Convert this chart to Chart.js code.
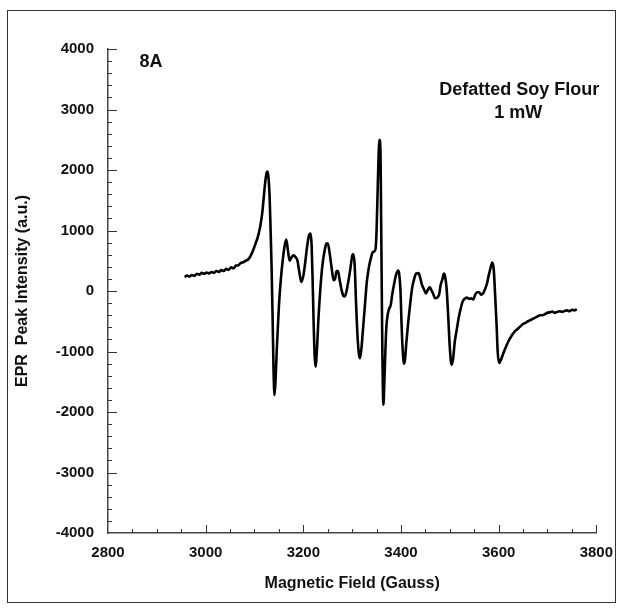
<!DOCTYPE html>
<html>
<head>
<meta charset="utf-8">
<script src="https://cdn.jsdelivr.net/npm/chart.js@4/dist/chart.umd.min.js"></script>
<style>
  body { margin: 0; background: #fff; }
  #wrap { position: relative; width: 624px; height: 611px; }
  #frame { position: absolute; left: 7px; top: 10px; width: 609px; height: 593px; border: 1.5px solid #333; box-sizing: border-box; pointer-events: none; }
</style>
</head>
<body>
<div id="wrap">
  <canvas id="myChart" width="624" height="611"></canvas>
  <div id="frame"></div>
</div>
<script>
// EPR spectrum, defatted soy flour, 1 mW

var fieldGauss = [
  2957, 2962, 2967, 2972, 2977, 2982, 2987, 2992, 2997, 3002, 3007, 3012, 3017, 3022, 3027, 3032,
  3037, 3042, 3047, 3052, 3057, 3062, 3067, 3072, 3077, 3082, 3087, 3092, 3097, 3102, 3107, 3112,
  3116, 3119, 3122, 3125, 3127, 3129, 3131, 3133, 3135, 3137, 3139, 3141, 3143, 3146, 3150, 3154,
  3158, 3162, 3165, 3168, 3172, 3176, 3180, 3184, 3188, 3192, 3196, 3200, 3204, 3208, 3212, 3215,
  3217, 3219, 3221, 3223, 3225, 3228, 3231, 3235, 3239, 3243, 3247, 3250, 3254, 3258, 3262, 3265,
  3268, 3271, 3274, 3278, 3282, 3285, 3288, 3292, 3296, 3300, 3302, 3305, 3308, 3311, 3314, 3316,
  3319, 3322, 3326, 3330, 3334, 3338, 3342, 3345, 3348, 3350, 3352, 3354, 3356, 3358, 3359, 3360,
  3361, 3362, 3364, 3366, 3368, 3370, 3373, 3376, 3379, 3382, 3386, 3390, 3394, 3396, 3399, 3401,
  3403, 3406, 3408, 3411, 3415, 3419, 3423, 3427, 3431, 3436, 3439, 3443, 3447, 3451, 3455, 3459,
  3462, 3466, 3470, 3474, 3478, 3481, 3485, 3488, 3490, 3493, 3496, 3499, 3502, 3504, 3507, 3510,
  3514, 3518, 3522, 3526, 3530, 3535, 3540, 3544, 3548, 3552, 3556, 3560, 3564, 3568, 3572, 3576,
  3580, 3584, 3587, 3590, 3593, 3596, 3598, 3601, 3605, 3610, 3615, 3620, 3625, 3630, 3635, 3640,
  3645, 3650, 3655, 3660, 3665, 3670, 3675, 3680, 3685, 3690, 3695, 3700, 3705, 3710, 3715, 3720,
  3725, 3730, 3735, 3740, 3745, 3750, 3755, 3760
];

var intensity = [
  230, 255, 240, 265, 250, 285, 270, 300, 285, 305, 290, 315, 300, 330, 315, 345,
  330, 365, 350, 390, 375, 420, 425, 465, 475, 500, 520, 580, 670, 780, 900, 1080,
  1300, 1550, 1800, 1960, 1975, 1850, 1550, 1000, 400, -400, -1300, -1720, -1500, -900, -250, 200,
  520, 760, 850, 700, 500, 560, 590, 560, 500, 300, 150, 250, 480, 750, 930, 950,
  750, 200, -500, -1050, -1250, -950, -450, 50, 420, 640, 780, 790, 620, 380, 180, 200,
  330, 330, 200, 30, -80, -90, -20, 150, 350, 580, 610, 450, -200, -750, -1050, -1110,
  -950, -650, -250, 150, 380, 530, 640, 650, 700, 1000, 1600, 2200, 2500, 2300, 1500, 600,
  -300, -1100, -1880, -1500, -1000, -600, -380, -290, -230, -60, 120, 270, 340, 300, 0, -500,
  -900, -1200, -1150, -850, -500, -200, 60, 200, 290, 295, 230, 100, 30, -40, 20, 60,
  20, -50, -120, -110, -60, 90, 200, 290, 250, 80, -300, -800, -1150, -1220, -1100, -850,
  -650, -450, -300, -180, -130, -110, -130, -120, -140, -60, -20, -20, -60, -40, 30, 120,
  270, 400, 470, 350, -100, -600, -1000, -1190, -1130, -1020, -920, -830, -760, -700, -650, -620,
  -580, -545, -525, -500, -480, -460, -440, -420, -400, -400, -380, -360, -350, -340, -360, -345,
  -335, -345, -330, -320, -335, -310, -320, -300
];

var xMin = 2800, xMax = 3800, xMajor = 200, xMinor = 50;
var yMin = -4000, yMax = 4000, yMajor = 1000, yMinor = 200;

var labelPanel = "8A";
var labelSample = ["Defatted Soy Flour", "1 mW"];

var points = fieldGauss.map(function (x, i) { return { x: x, y: intensity[i] }; });

var FONT = "'Liberation Sans', Arial, sans-serif";

// inward tick marks + text labels
var decorate = {
  id: "decorate",
  afterDraw: function (chart) {
    var ctx = chart.ctx;
    var xs = chart.scales.x, ys = chart.scales.y;
    var area = chart.chartArea;
    ctx.save();
    ctx.strokeStyle = "#333";
    ctx.lineWidth = 1;
    ctx.beginPath();
    for (var v = xMin + xMinor; v <= xMax; v += xMinor) {
      var px = Math.round(xs.getPixelForValue(v)) + 0.5;
      var len = v % xMajor === 0 ? 8 : 4;
      ctx.moveTo(px, area.bottom);
      ctx.lineTo(px, area.bottom - len);
    }
    for (var w = yMin + yMinor; w <= yMax; w += yMinor) {
      var py = Math.round(ys.getPixelForValue(w)) + 0.5;
      var l2 = w % yMajor === 0 ? 9 : 4;
      ctx.moveTo(area.left, py);
      ctx.lineTo(area.left + l2, py);
    }
    ctx.stroke();

    ctx.fillStyle = "#111";
    ctx.textAlign = "center";
    ctx.textBaseline = "middle";
    ctx.font = "bold 18px " + FONT;
    ctx.fillText(labelPanel, xs.getPixelForValue(2888), ys.getPixelForValue(3785));
    ctx.font = "bold 18px " + FONT;
    ctx.fillText(labelSample[0], xs.getPixelForValue(3642), ys.getPixelForValue(3322));
    ctx.fillText(labelSample[1], xs.getPixelForValue(3640), ys.getPixelForValue(2942));
    ctx.restore();
  }
};

var plain = function (value) { return String(value); };

new Chart("myChart", {
  type: "line",
  data: {
    datasets: [
      {
        data: points,
        borderColor: "#000",
        borderWidth: 2.6,
        pointRadius: 0,
        fill: false,
        cubicInterpolationMode: "monotone",
      },
    ],
  },
  options: {
    responsive: false,
    animation: false,
    layout: { padding: { left: 0, top: 49, right: 27, bottom: 0 } },
    plugins: {
      legend: { display: false },
      tooltip: { enabled: false },
    },
    scales: {
      x: {
        type: "linear",
        min: xMin,
        max: xMax,
        afterFit: function (s) { s.height = 78; },
        grid: { display: false, drawTicks: false, tickLength: 0 },
        border: { display: true, color: "#444", width: 1.5 },
        ticks: {
          stepSize: xMajor,
          padding: 11,
          color: "#111",
          callback: plain,
          font: { family: FONT, size: 15, weight: "bold" },
          maxRotation: 0,
        },
        title: {
          display: true,
          text: "Magnetic Field (Gauss)",
          color: "#111",
          font: { family: FONT, size: 16, weight: "bold" },
          padding: { top: 0, bottom: 18 },
        },
      },
      y: {
        min: yMin,
        max: yMax,
        afterFit: function (s) { s.width = 108; },
        grid: { display: false, drawTicks: false, tickLength: 0 },
        border: { display: true, color: "#444", width: 1.5 },
        ticks: {
          stepSize: yMajor,
          padding: 14,
          color: "#111",
          callback: plain,
          font: { family: FONT, size: 15, weight: "bold" },
        },
        title: {
          display: true,
          text: "EPR  Peak Intensity (a.u.)",
          color: "#111",
          font: { family: FONT, size: 16, weight: "bold" },
          padding: { top: 13, bottom: 0 },
        },
      },
    },
  },
  plugins: [decorate],
});
</script>
</body>
</html>
